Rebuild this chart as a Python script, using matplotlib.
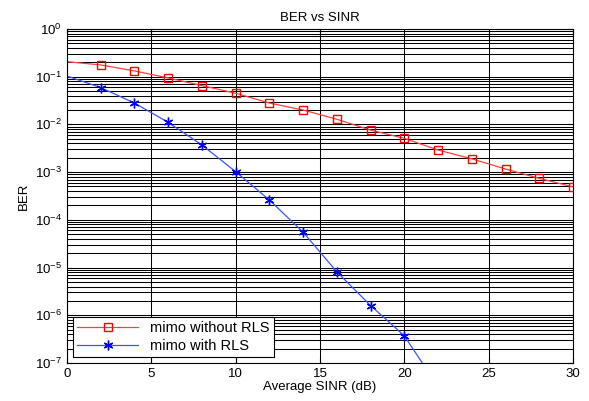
import numpy as np
import matplotlib
matplotlib.use('Agg')
import matplotlib.pyplot as plt

plt.rcParams['font.family'] = ['Liberation Sans', 'DejaVu Sans']

# ---- datos ----
sinr = [0, 2, 4, 6, 8, 10, 12, 14, 16, 18, 20, 22, 24, 26, 28, 30]
ber_sin_rls = [0.206, 0.176, 0.132, 0.094, 0.065, 0.045, 0.028, 0.020, 0.0128,
               0.0076, 0.0051, 0.0029, 0.0019, 0.00116, 0.00074, 0.00049]
sinr_rls = [0, 2, 4, 6, 8, 10, 12, 14, 16, 18, 20, 22]
ber_con_rls = [0.103, 0.059, 0.028, 0.011, 0.0037, 0.00102, 2.6e-4, 5.5e-5,
               8.1e-6, 1.6e-6, 3.7e-7, 3.2e-8]
y_ticks = [1e-7, 1e-6, 1e-5, 1e-4, 1e-3, 1e-2, 1e-1, 1e0]
x_ticks = [0, 5, 10, 15, 20, 25, 30]

fig = plt.figure(figsize=(5.89, 4.01), dpi=100)
ax = fig.add_axes([0.1138, 0.0948, 0.859, 0.833])

ax.semilogy(sinr, ber_sin_rls, color='#ff4040', lw=0.9, marker='s', ms=6,
            mfc='none', mec='red', mew=1.0, markevery=list(range(1, len(sinr))),
            label='mimo without RLS')
ax.semilogy(sinr_rls, ber_con_rls, color='#3a55ff', lw=0.9, marker=(6, 2, 0),
            ms=7, mec='blue', mew=1.0, markevery=list(range(1, len(sinr_rls))),
            label='mimo with RLS')

ax.set_xlim(0, 30)
ax.set_ylim(1e-7, 1e0)
ax.set_xticks(x_ticks)
ax.set_yticks(y_ticks)
ax.grid(True, which='major', color='black', lw=0.75)
ax.grid(True, which='minor', axis='y', color='black', lw=0.75)
ax.tick_params(which='both', direction='in', labelsize=9.5, top=True, right=True)
for s in ax.spines.values():
    s.set_linewidth(0.8)

ax.set_title('BER vs SINR', fontsize=9.5)
ax.set_xlabel('Average SINR (dB)', fontsize=9.5, labelpad=1)
ax.set_ylabel('BER', fontsize=9.5)

leg = ax.legend(loc='lower left', fontsize=10.5, fancybox=False, framealpha=1,
                edgecolor='black', borderaxespad=0.4, handlelength=4.2,
                borderpad=0.3, labelspacing=0.25)
leg.get_frame().set_linewidth(0.8)

fig.savefig('out.png', dpi=100)
